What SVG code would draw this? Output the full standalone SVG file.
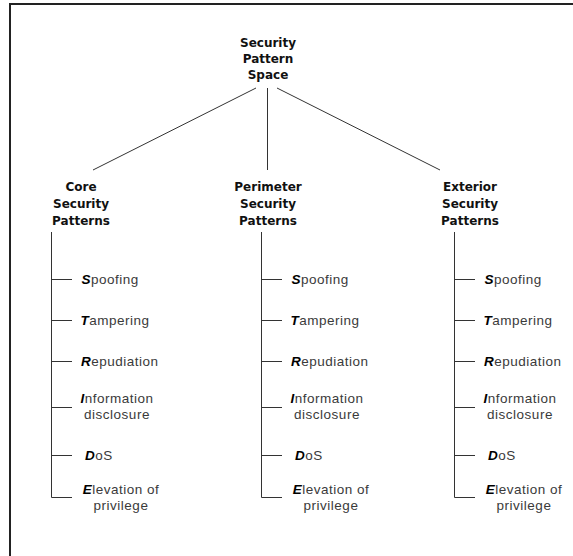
<svg xmlns="http://www.w3.org/2000/svg" width="573" height="556" viewBox="0 0 573 556">
<style>
.hd{font-family:"DejaVu Sans",sans-serif;font-weight:bold;font-size:12px;fill:#111;text-anchor:middle}
.it{font-family:"Liberation Sans",Arial,sans-serif;font-size:13.5px;letter-spacing:0.5px;fill:#3a3a3a}
.c{text-anchor:middle}
.k{font-weight:bold;font-style:italic;fill:#000}
.ln{stroke:#333;stroke-width:1;fill:none}
</style>
<rect x="10" y="4" width="600" height="600" fill="#fff" stroke="#222" stroke-width="2"/>
<g id="root"><text class="hd" x="268" y="47">Security</text><text class="hd" x="268" y="63">Pattern</text><text class="hd" x="268" y="79">Space</text></g>
<g id="core"><text class="hd" x="81" y="191">Core</text><text class="hd" x="81" y="208">Security</text><text class="hd" x="81" y="225">Patterns</text></g>
<g id="perimeter"><text class="hd" x="268" y="191">Perimeter</text><text class="hd" x="268" y="208">Security</text><text class="hd" x="268" y="225">Patterns</text></g>
<g id="exterior"><text class="hd" x="470" y="191">Exterior</text><text class="hd" x="470" y="208">Security</text><text class="hd" x="470" y="225">Patterns</text></g>
<g id="connectors" class="ln">
<line x1="256" y1="88" x2="93" y2="170"/>
<line x1="267.5" y1="88" x2="267.5" y2="170"/>
<line x1="277" y1="88" x2="440" y2="170"/>
<path d="M51.5 232V497.5M51.5 279.5H72M51.5 320.5H72M51.5 361.5H72M51.5 407.5H72M51.5 455.5H72M51.5 497.5H72"/>
<path d="M261.5 232V497.5M261.5 279.5H282M261.5 320.5H282M261.5 361.5H282M261.5 407.5H282M261.5 455.5H282M261.5 497.5H282"/>
<path d="M454.5 232V497.5M454.5 279.5H475M454.5 320.5H475M454.5 361.5H475M454.5 407.5H475M454.5 455.5H475M454.5 497.5H475"/>
</g>
<g id="core-items" class="it">
<g id="core-s"><text x="81.5" y="284"><tspan class="k">S</tspan>poofing</text></g>
<g id="core-t"><text x="80.5" y="325"><tspan class="k">T</tspan>ampering</text></g>
<g id="core-r"><text x="81" y="366"><tspan class="k">R</tspan>epudiation</text></g>
<g id="core-i"><text class="c" x="117" y="403"><tspan class="k">I</tspan>nformation</text><text class="c" x="117" y="419">disclosure</text></g>
<g id="core-d"><text x="85" y="460"><tspan class="k">D</tspan>oS</text></g>
<g id="core-e"><text class="c" x="121" y="494"><tspan class="k">E</tspan>levation of</text><text class="c" x="121" y="510">privilege</text></g>
</g>
<g id="perimeter-items" class="it" transform="translate(210,0)">
<g id="perimeter-s"><text x="81.5" y="284"><tspan class="k">S</tspan>poofing</text></g>
<g id="perimeter-t"><text x="80.5" y="325"><tspan class="k">T</tspan>ampering</text></g>
<g id="perimeter-r"><text x="81" y="366"><tspan class="k">R</tspan>epudiation</text></g>
<g id="perimeter-i"><text class="c" x="117" y="403"><tspan class="k">I</tspan>nformation</text><text class="c" x="117" y="419">disclosure</text></g>
<g id="perimeter-d"><text x="85" y="460"><tspan class="k">D</tspan>oS</text></g>
<g id="perimeter-e"><text class="c" x="121" y="494"><tspan class="k">E</tspan>levation of</text><text class="c" x="121" y="510">privilege</text></g>
</g>
<g id="exterior-items" class="it" transform="translate(403,0)">
<g id="exterior-s"><text x="81.5" y="284"><tspan class="k">S</tspan>poofing</text></g>
<g id="exterior-t"><text x="80.5" y="325"><tspan class="k">T</tspan>ampering</text></g>
<g id="exterior-r"><text x="81" y="366"><tspan class="k">R</tspan>epudiation</text></g>
<g id="exterior-i"><text class="c" x="117" y="403"><tspan class="k">I</tspan>nformation</text><text class="c" x="117" y="419">disclosure</text></g>
<g id="exterior-d"><text x="85" y="460"><tspan class="k">D</tspan>oS</text></g>
<g id="exterior-e"><text class="c" x="121" y="494"><tspan class="k">E</tspan>levation of</text><text class="c" x="121" y="510">privilege</text></g>
</g>
</svg>
